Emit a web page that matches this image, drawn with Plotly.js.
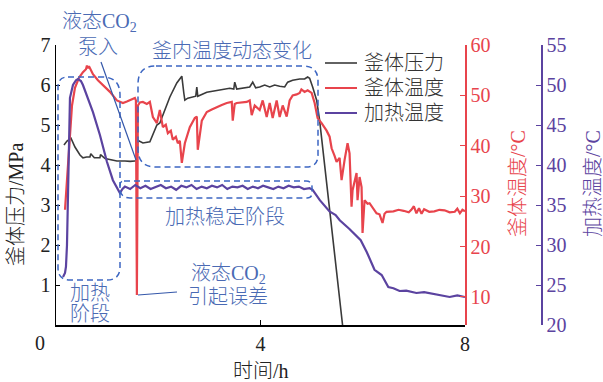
<!DOCTYPE html>
<html>
<head>
<meta charset="utf-8">
<script src="https://cdn.plot.ly/plotly-3.0.1.min.js"></script>
<style>
  html, body { margin: 0; padding: 0; background: #fff; }
  #chart { width: 603px; height: 382px; }
</style>
</head>
<body>
<div id="chart"></div>
<script>
// 釜体压力 (MPa) vs 时间 (h)
const pressureTime = [0.156, 0.215, 0.293, 0.371, 0.469, 0.527, 0.60, 0.664, 0.68, 0.75, 0.859, 0.87, 0.96, 1.055, 1.191, 1.348, 1.45, 1.543, 1.582,
  1.60, 1.70, 1.836, 1.973, 2.031, 2.129, 2.227, 2.363, 2.461, 2.50, 2.52, 2.578, 2.676, 2.734, 2.754, 2.773,
  2.949, 3.145, 3.398, 3.477, 3.496, 3.535, 3.789, 3.848, 3.906, 3.984, 4.082, 4.18, 4.277, 4.375, 4.473,
  4.531, 4.629, 4.766, 4.863, 4.922, 4.961, 5.02, 5.098, 5.156, 5.215, 5.254, 5.293, 5.352, 5.449, 5.547, 5.605];
const pressureValue = [4.50, 4.60, 4.67, 4.45, 4.25, 4.18, 4.20, 4.20, 4.28, 4.18, 4.18, 4.26, 4.16, 4.14, 4.10, 4.10, 4.09, 4.10, 4.10,
  4.62, 4.55, 4.58, 5.00, 5.05, 5.40, 5.70, 6.05, 6.22, 5.80, 5.62, 5.67, 5.70, 5.72, 5.95, 5.72,
  5.82, 5.87, 5.92, 5.90, 6.07, 5.90, 5.95, 6.07, 5.93, 5.95, 6.00, 5.95, 6.00, 5.97, 5.95,
  6.07, 6.12, 6.15, 6.15, 6.20, 6.17, 5.95, 5.62, 5.12, 4.45, 3.95, 3.60, 2.87, 1.70, 0.62, 0.0];

// 釜体温度 (°C) vs 时间 (h)
const vesselTime = [0.176, 0.195, 0.234, 0.273, 0.313, 0.371, 0.449, 0.527, 0.586, 0.605, 0.625, 0.645, 0.684, 0.723, 0.82, 0.918, 1.055,
  1.191, 1.309, 1.387, 1.445, 1.504, 1.543, 1.563, 1.582, 1.602, 1.641, 1.699, 1.777, 1.836, 1.895, 1.973,
  2.031, 2.09, 2.148, 2.188, 2.246, 2.285, 2.344, 2.383, 2.422, 2.461, 2.52, 2.617, 2.715, 2.754, 2.773,
  2.852, 2.949, 3.047, 3.145, 3.242, 3.34, 3.438, 3.457, 3.496, 3.535, 3.633, 3.73, 3.789, 3.828, 3.887,
  3.984, 4.043, 4.121, 4.18, 4.238, 4.316, 4.375, 4.434, 4.512, 4.57, 4.629, 4.707, 4.766, 4.80, 4.863, 4.922,
  5.0, 5.059, 5.117, 5.195, 5.293, 5.352, 5.391, 5.449, 5.488, 5.547, 5.586, 5.645, 5.703, 5.742, 5.781,
  5.801, 5.879, 5.898, 5.938, 5.977, 5.996, 6.035, 6.094, 6.133, 6.211, 6.27, 6.328, 6.387, 6.426, 6.465,
  6.6, 6.7, 6.8, 6.9, 6.95, 7.0, 7.05, 7.1, 7.15, 7.2, 7.3, 7.4, 7.5, 7.6, 7.7, 7.8, 7.85, 7.9, 7.95, 8.0];
const vesselValue = [27.3, 30.0, 36.0, 42.0, 48.0, 51.5, 53.5, 54.6, 55.2, 55.9, 55.4, 55.8, 54.8, 54.2, 53.0, 52.0, 50.7,
  49.0, 48.5, 48.8, 49.1, 49.3, 49.5, 49.0, 10.4, 48.0, 48.6, 48.7, 48.3, 48.7, 45.7, 44.5,
  47.1, 43.7, 44.2, 42.5, 43.0, 41.2, 41.8, 40.5, 41.0, 36.6, 40.5, 43.7, 45.5, 45.8, 39.2,
  45.0, 46.7, 47.2, 47.7, 48.1, 48.5, 48.7, 45.0, 48.3, 48.5, 48.6, 48.7, 49.0, 46.1, 48.0,
  47.1, 49.0, 45.7, 48.5, 45.5, 49.0, 45.7, 48.0, 45.8, 49.0, 50.0, 50.2, 50.5, 51.2, 50.7, 51.0,
  50.5, 48.5, 45.5, 44.5, 43.0, 41.8, 39.5, 38.0, 36.8, 37.6, 33.2, 37.2, 40.5, 38.5, 27.9,
  31.2, 34.6, 29.2, 33.8, 31.8, 22.7, 29.2, 28.5, 28.6, 27.5, 26.6, 26.4, 24.7, 26.5, 26.9,
  27.0, 27.3, 27.1, 26.8, 27.3, 28.0, 26.6, 27.6, 26.5, 27.4, 26.9, 27.0, 27.3, 27.2, 26.8, 26.9, 27.5, 26.6, 27.3, 27.0];

// 加热温度 (°C) vs 时间 (h)
const heaterTime = [0.137, 0.176, 0.195, 0.215, 0.234, 0.254, 0.273, 0.332, 0.391, 0.43, 0.488, 0.527, 0.625, 0.723,
  0.859, 0.996, 1.113, 1.19, 1.25, 1.30, 1.348, 1.45, 1.55, 1.65, 1.75, 1.85, 1.95, 2.05, 2.15, 2.25, 2.35, 2.45,
  2.55, 2.65, 2.75, 2.85, 2.95, 3.05, 3.15, 3.25, 3.35, 3.45, 3.55, 3.65, 3.75, 3.85, 3.95, 4.05, 4.15, 4.25,
  4.35, 4.45, 4.55, 4.65, 4.75, 4.85, 4.96, 5.02, 5.16, 5.35, 5.47, 5.55, 5.74, 5.86, 5.96, 6.08, 6.15, 6.23,
  6.37, 6.5, 6.6, 6.72, 6.85, 7.05, 7.2, 7.36, 7.5, 7.7, 7.85, 8.0];
const heaterValue = [26.0, 26.5, 27.3, 30.0, 36.0, 44.0, 48.4, 50.0, 50.6, 50.75, 50.5, 50.0, 48.3, 46.6,
  43.75, 40.4, 38.1, 37.2, 36.5, 37.0, 37.3, 37.0, 37.5, 37.1, 37.4, 37.0, 37.3, 37.5, 37.1, 37.3, 36.9, 37.4,
  37.2, 37.5, 37.0, 37.3, 37.1, 37.4, 37.2, 37.5, 37.0, 37.3, 37.2, 37.4, 37.0, 37.3, 37.1, 37.4, 37.2, 37.0,
  37.3, 37.1, 37.4, 37.2, 37.3, 37.0, 37.1, 36.9, 35.6, 34.2, 33.75, 33.1, 32.0, 31.2, 30.6, 29.1, 28.0, 26.9,
  26.25, 24.75, 24.6, 24.25, 24.3, 24.0, 24.1, 23.9, 23.8, 23.5, 23.7, 23.5];

const xTicks = [4, 8];
const pressureTicks = [1, 2, 3, 4, 5, 6, 7];
const vesselTicks = [10, 20, 30, 40, 50, 60];
const heaterTicks = [20, 25, 30, 35, 40, 45, 50, 55];
const seriesNames = ['釜体压力', '釜体温度', '加热温度'];

const FONT = 'Liberation Serif, "Noto Sans CJK SC", serif';
const RED = '#e8444c';
const PURPLE = '#5b43a0';
const BLACK = '#3a3a3a';
const BLUE_TEXT = '#4a6ab4';
const BLUE_LINE = '#3c66c2';
const COLORS = [BLACK, RED, PURPLE];

// plot-area pixel helpers (plot box spans 56..541 x 45..325)
const L = 56, R = 541, T = 45, B = 325;
const px = x => (x - L) / (R - L);
const py = y => (B - y) / (B - T);

function roundRect(x0, y0, x1, y1, r) {
  // r: [topLeft, topRight, bottomRight, bottomLeft]
  const p = (x, y) => px(x) + ',' + py(y);
  return 'M' + p(x0 + r[0], y0) +
    ' L' + p(x1 - r[1], y0) + ' Q' + p(x1, y0) + ' ' + p(x1, y0 + r[1]) +
    ' L' + p(x1, y1 - r[2]) + ' Q' + p(x1, y1) + ' ' + p(x1 - r[2], y1) +
    ' L' + p(x0 + r[3], y1) + ' Q' + p(x0, y1) + ' ' + p(x0, y1 - r[3]) +
    ' L' + p(x0, y0 + r[0]) + ' Q' + p(x0, y0) + ' ' + p(x0 + r[0], y0) + ' Z';
}

const dashed = { color: BLUE_LINE, width: 1.5, dash: '6px,4px' };

const traces = [
  { x: pressureTime, y: pressureValue, yaxis: 'y', name: seriesNames[0], mode: 'lines',
    line: { color: BLACK, width: 1.6 } },
  { x: vesselTime, y: vesselValue, yaxis: 'y2', name: seriesNames[1], mode: 'lines',
    line: { color: RED, width: 2.2 } },
  { x: heaterTime, y: heaterValue, yaxis: 'y3', name: seriesNames[2], mode: 'lines',
    line: { color: PURPLE, width: 2.2 } }
];

function label(text, x, y, color, extra) {
  return Object.assign({ text: text, xref: 'paper', yref: 'paper', x: px(x), y: py(y),
    xanchor: 'center', yanchor: 'middle', showarrow: false,
    font: { family: FONT, size: 20, color: color, weight: 300 } }, extra || {});
}

const annotations = [
  label('0', 40, 343, '#222'),
  label('时间/h', 261, 371, '#222'),
  label('釜体压力/MPa', 16, 205, '#222', { textangle: -90 }),
  label('釜体温度/°C', 518, 184, RED, { textangle: -90 }),
  label('加热温度/°C', 593, 184, PURPLE, { textangle: -90 }),
  label('液态CO<sub>2</sub>', 99, 22, BLUE_TEXT),
  label('泵入', 98, 47, BLUE_TEXT),
  label('釜内温度动态变化', 232, 51, BLUE_TEXT),
  label('加热稳定阶段', 225, 217, BLUE_TEXT),
  label('加热', 90, 293, BLUE_TEXT),
  label('阶段', 90, 314, BLUE_TEXT),
  label('液态CO<sub>2</sub>', 228, 274, BLUE_TEXT),
  label('引起误差', 228, 297, BLUE_TEXT)
];

const shapes = [
  { type: 'path', xref: 'paper', yref: 'paper', path: roundRect(58, 77, 120, 280, [10, 18, 13, 12]), line: dashed },
  { type: 'path', xref: 'paper', yref: 'paper', path: roundRect(138, 66, 318, 167, [18, 15, 12, 18]), line: dashed },
  { type: 'path', xref: 'paper', yref: 'paper', path: roundRect(120, 181, 312, 198, [4, 6, 5, 10]), line: dashed },
  { type: 'line', xref: 'paper', yref: 'paper', x0: px(101), y0: py(62), x1: px(136), y1: py(160),
    line: { color: '#3558aa', width: 1.2 } },
  { type: 'line', xref: 'paper', yref: 'paper', x0: px(138), y0: py(295), x1: px(177), y1: py(292),
    line: { color: '#3558aa', width: 1.2 } }
];

// legend key: short line + series name per row
seriesNames.forEach((name, i) => {
  const yRow = 63 + i * 25;
  shapes.push({ type: 'line', xref: 'paper', yref: 'paper', x0: px(325), x1: px(357), y0: py(yRow), y1: py(yRow),
    line: { color: COLORS[i], width: i === 0 ? 1.6 : 2 } });
  annotations.push(label(name, 362, yRow, '#333', { xanchor: 'left' }));
});

const axisFont = c => ({ family: FONT, size: 20, color: c });

const layout = {
  width: 603, height: 382,
  margin: { l: L, r: 603 - R, t: T, b: 382 - B, pad: 0 },
  paper_bgcolor: '#fff', plot_bgcolor: '#fff',
  font: { family: FONT, size: 20, color: '#222' },
  showlegend: false,
  xaxis: { domain: [0, px(465)], range: [0, 8], tickvals: xTicks, ticks: 'inside', ticklen: 5,
    tickcolor: '#000', showline: true, linecolor: '#000', linewidth: 1.5, showgrid: false, zeroline: false,
    tickfont: axisFont('#222') },
  yaxis: { range: [0, 7], tickvals: pressureTicks, ticks: 'inside', ticklen: 4, tickcolor: '#000',
    showline: true, linecolor: '#000', linewidth: 1.5, showgrid: false, zeroline: false,
    tickfont: axisFont('#222') },
  yaxis2: { overlaying: 'y', anchor: 'free', position: px(465), side: 'right',
    range: [4.44, 60], tickvals: vesselTicks, ticks: 'inside', ticklen: 5, tickcolor: RED,
    showline: true, linecolor: RED, linewidth: 1.5, showgrid: false, zeroline: false,
    tickfont: axisFont(RED) },
  yaxis3: { overlaying: 'y', anchor: 'free', position: 1, side: 'right',
    range: [20, 55], tickvals: heaterTicks, ticks: 'inside', ticklen: 5, tickcolor: PURPLE,
    showline: true, linecolor: PURPLE, linewidth: 1.5, showgrid: false, zeroline: false,
    tickfont: axisFont(PURPLE) },
  annotations: annotations,
  shapes: shapes
};

Plotly.newPlot('chart', traces, layout, { staticPlot: true, displayModeBar: false });
</script>
</body>
</html>
